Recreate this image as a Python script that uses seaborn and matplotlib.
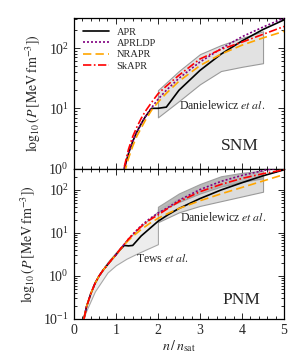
import matplotlib
matplotlib.use("Agg")
import matplotlib.pyplot as plt
import matplotlib.ticker as mticker
import seaborn as sns
import numpy as np
import pandas as pd

# --- data (log10 of P in MeV fm^-3) ---
# symmetric nuclear matter
n_snm = [1.2, 1.3, 1.4, 1.5, 1.6, 1.7, 1.85, 2.0, 2.2, 2.5, 3.0, 3.5, 4.0, 4.5, 5.0]
snm_apr = [0.0, 0.25, 0.45, 0.61, 0.74, 0.86, 1.0, 1.0, 1.02, 1.30, 1.63, 1.90, 2.12, 2.31, 2.47]
snm_aprldp = [0.0, 0.25, 0.45, 0.61, 0.74, 0.86, 1.01, 1.15, 1.30, 1.50, 1.77, 1.99, 2.19, 2.35, 2.50]
snm_nrapr = [-0.08, 0.17, 0.37, 0.54, 0.67, 0.80, 0.97, 1.10, 1.25, 1.45, 1.71, 1.90, 2.05, 2.17, 2.28]
snm_skapr = [0.03, 0.32, 0.53, 0.69, 0.83, 0.95, 1.10, 1.24, 1.37, 1.55, 1.82, 1.98, 2.10, 2.23, 2.36]

# pure neutron matter
n_pnm = [0.24, 0.3, 0.4, 0.5, 0.6, 0.7, 0.8, 0.9, 1.0, 1.1, 1.2, 1.3, 1.4, 1.6, 1.8, 2.0, 2.25, 2.5, 3.0, 3.5, 4.0, 4.5, 5.0]
pnm_apr = [-1.0, -0.72, -0.42, -0.18, 0.0, 0.14, 0.26, 0.38, 0.49, 0.61, 0.71, 0.70, 0.71, 0.93, 1.10, 1.27, 1.43, 1.57, 1.80, 2.00, 2.17, 2.33, 2.47]
pnm_aprldp = [-1.0, -0.72, -0.42, -0.18, 0.0, 0.14, 0.26, 0.38, 0.49, 0.62, 0.74, 0.86, 0.97, 1.17, 1.33, 1.46, 1.60, 1.76, 2.01, 2.20, 2.34, 2.45, 2.54]
pnm_nrapr = [-1.0, -0.72, -0.42, -0.18, 0.0, 0.14, 0.26, 0.38, 0.49, 0.61, 0.73, 0.83, 0.92, 1.08, 1.22, 1.34, 1.46, 1.57, 1.75, 1.91, 2.06, 2.21, 2.36]
pnm_skapr = [-1.0, -0.72, -0.42, -0.18, 0.0, 0.14, 0.26, 0.38, 0.49, 0.62, 0.74, 0.86, 0.96, 1.15, 1.30, 1.42, 1.58, 1.73, 1.96, 2.13, 2.27, 2.38, 2.47]

# Danielewicz et al. flow constraints
n_flow = [2.0, 2.5, 3.0, 3.5, 4.0, 4.5]
snm_flow_lo = [0.85, 1.12, 1.40, 1.62, 1.69, 1.75]
snm_flow_hi = [1.30, 1.62, 1.90, 2.05, 2.17, 2.28]
pnm_stiff_lo = [1.49, 1.72, 1.92, 2.08, 2.19, 2.27]
pnm_stiff_hi = [1.61, 1.92, 2.14, 2.32, 2.40, 2.45]
pnm_soft_lo = [1.25, 1.48, 1.63, 1.74, 1.85, 1.96]
pnm_soft_hi = [1.55, 1.80, 1.98, 2.12, 2.22, 2.30]

# Tews et al. chiral EFT band
n_tews = [0.22, 0.3, 0.5, 0.8, 1.0, 1.25, 1.5, 1.75, 2.0]
tews_lo = [-1.0, -0.80, -0.36, 0.08, 0.25, 0.40, 0.52, 0.63, 0.74]
tews_hi = [-0.95, -0.66, -0.12, 0.32, 0.55, 0.82, 1.07, 1.29, 1.50]

models = ["APR", "APRLDP", "NRAPR", "SkAPR"]
colors = {"APR": "black", "APRLDP": "purple", "NRAPR": "orange", "SkAPR": "red"}
styles = {"APR": "-", "APRLDP": (0, (1.2, 1.2)), "NRAPR": (0, (5, 2.5)), "SkAPR": (0, (5, 1.5, 1, 1.5))}

sns.set_theme(style="ticks")
plt.rcParams["font.family"] = ["Liberation Serif", "DejaVu Serif"]
plt.rcParams["mathtext.fontset"] = "stix"
plt.rcParams["xtick.direction"] = "in"
plt.rcParams["ytick.direction"] = "in"


def p(vals):
    return 10 ** np.asarray(vals, dtype=float)


fig, (ax1, ax2) = plt.subplots(2, 1, sharex=True, figsize=(2.99, 3.54), dpi=100)
plt.subplots_adjust(left=0.247, right=0.950, top=0.949, bottom=0.099, hspace=0)

# bands
ax1.fill_between(n_flow, p(snm_flow_lo), p(snm_flow_hi), facecolor="#e2e2e2",
                 edgecolor="#9a9a9a", lw=0.8, zorder=1)
ax2.fill_between(n_tews, p(tews_lo), p(tews_hi), facecolor="#ededed",
                 edgecolor="#a8a8a8", lw=0.8, zorder=1)
ax2.fill_between(n_flow, p(pnm_soft_lo), p(pnm_soft_hi), facecolor="#dcdcdc",
                 edgecolor="#9a9a9a", lw=0.8, zorder=1)
ax2.fill_between(n_flow, p(pnm_stiff_lo), p(pnm_stiff_hi), facecolor="#b4b4b4",
                 edgecolor="#9a9a9a", lw=0.8, zorder=1, alpha=0.9)

snm = {"APR": snm_apr, "APRLDP": snm_aprldp, "NRAPR": snm_nrapr, "SkAPR": snm_skapr}
pnm = {"APR": pnm_apr, "APRLDP": pnm_aprldp, "NRAPR": pnm_nrapr, "SkAPR": pnm_skapr}

for m in models:
    df1 = pd.DataFrame({"n": n_snm, "P": p(snm[m])})
    sns.lineplot(data=df1, x="n", y="P", ax=ax1, color=colors[m], linestyle=styles[m],
                 lw=1.2, label=m, sort=False, zorder=3)
    df2 = pd.DataFrame({"n": n_pnm, "P": p(pnm[m])})
    sns.lineplot(data=df2, x="n", y="P", ax=ax2, color=colors[m], linestyle=styles[m],
                 lw=1.2, legend=False, sort=False, zorder=3)

ylab = r"$\log_{10}(P\,[\mathrm{MeV\,fm^{-3}}])$"
for ax in (ax1, ax2):
    ax.set_yscale("log")
    ax.set_xlim(0, 5)
    ax.set_ylabel(ylab, fontsize=10, labelpad=4)
    ax.xaxis.set_major_locator(mticker.MultipleLocator(1))
    ax.xaxis.set_minor_locator(mticker.MultipleLocator(0.2))
    ax.tick_params(which="both", top=True, right=True, labelsize=10, width=0.7)
    ax.tick_params(which="major", length=4)
    ax.tick_params(which="minor", length=2)
    for s in ax.spines.values():
        s.set_linewidth(0.9)
        s.set_color("black")

ax1.set_ylim(1, 10 ** 2.5)
ax2.set_ylim(0.1, 10 ** 2.5)
ax1.set_xlabel("")
ax2.set_xlabel(r"$n\,/\,n_{\mathrm{sat}}$", fontsize=10, labelpad=1)

leg = ax1.legend(loc="upper left", frameon=False, fontsize=7.5, handlelength=2.5,
                 handletextpad=0.7, labelspacing=0.2)

ax1.text(3.52, 10 ** 1.05, r"Danielewicz $\mathit{et\ al.}$", fontsize=8.5, ha="center", va="center")
ax1.text(3.95, 10 ** 0.38, "SNM", fontsize=12.5, ha="center", va="center")
ax2.text(3.55, 10 ** 1.35, r"Danielewicz $\mathit{et\ al.}$", fontsize=8.5, ha="center", va="center")
ax2.text(2.11, 10 ** 0.40, r"Tews $\mathit{et\ al.}$", fontsize=8.5, ha="center", va="center")
ax2.text(3.98, 10 ** -0.56, "PNM", fontsize=12.5, ha="center", va="center")

fig.savefig("out.png", dpi=100)
